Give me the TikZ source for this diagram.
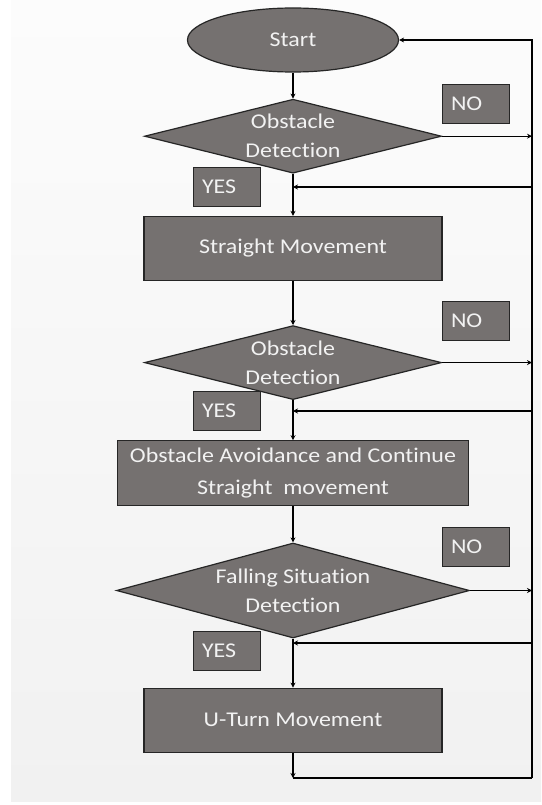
\documentclass[tikz,border=0pt]{standalone}
\usepackage{fontspec}
\setmainfont{Carlito}[FakeStretch=1.14, Ligatures={NoCommon}]
\usetikzlibrary{shapes,arrows.meta,positioning,calc}

\definecolor{boxgray}{RGB}{117,113,112}
\definecolor{boxtext}{RGB}{242,242,242}
\definecolor{paneltop}{RGB}{252,252,252}
\definecolor{panelbot}{RGB}{241,241,241}

\begin{document}
\begin{tikzpicture}[
        x=1pt, y=-1pt,
        node distance=40pt,
        base/.style={draw=black!85, line width=1.2pt, fill=boxgray, text=boxtext, font=\fontsize{21}{29}\selectfont, align=center, inner sep=0pt},
        terminal/.style={base, ellipse, minimum width=211pt, minimum height=64pt},
        proc/.style={base, rectangle, minimum width=298pt, minimum height=64pt},
        decision/.style={base, diamond, minimum width=297pt, minimum height=74pt},
        dtext/.style={text=boxtext, font=\fontsize{21}{29}\selectfont, align=center, inner sep=0pt},
        flag/.style={base, minimum width=67pt, minimum height=39pt, text width=50pt, align=left},
        arrow/.style={draw, line width=1.2pt, -{Stealth[length=5pt,width=5pt]}},
        line/.style={draw, line width=1.2pt}
    ]
        \useasboundingbox (0,0) rectangle (541,805);
        \shade [top color=paneltop, bottom color=panelbot] (11,0) rectangle (541,801);

        % Main column
        \node (start) [terminal] at (293,40) {Start};
        \node (obst1) [decision, below=26pt of start] {};
        \node (obst1txt) [dtext] at (obst1) {Obstacle\\Detection};
        \node (straight) [proc, below=42pt of obst1] {Straight Movement};
        \node (obst2) [decision, below=44pt of straight] {};
        \node (obst2txt) [dtext] at (obst2) {Obstacle\\Detection};
        \node (avoid) [proc, minimum width=351pt, minimum height=65pt, font=\fontsize{21}{32}\selectfont, below=40pt of obst2] {Obstacle Avoidance and Continue\\Straight\ \ movement};
        \node (fall) [decision, minimum width=353pt, minimum height=95pt, below=36pt of avoid] {};
        \node (falltxt) [dtext] at (fall) {Falling Situation\\Detection};
        \node (uturn) [proc, below=49pt of fall] {U-Turn Movement};

        % YES / NO flags
        \node (no1) [flag] at (476,104) {NO};
        \node (yes1) [flag] at (227,187) {YES};
        \node (no2) [flag] at (476,321) {NO};
        \node (yes2) [flag] at (227,411) {YES};
        \node (no3) [flag] at (476,547) {NO};
        \node (yes3) [flag] at (227,651) {YES};

        % Return loop
        \coordinate (loopr) at (532,778);
        \coordinate (loopl) at (uturn.south |- loopr);
        \coordinate (back1) at (obst1.south |- 0,187);
        \coordinate (back2) at (obst2.south |- 0,411);
        \coordinate (back3) at (fall.south |- 0,643);

        % Connections
        \draw [arrow] (start.south) -- (obst1.north);
        \draw [arrow] (obst1.south) -- (straight.north);
        \draw [arrow] (straight.south) -- (obst2.north);
        \draw [arrow] (obst2.south) -- (avoid.north);
        \draw [arrow] (avoid.south) -- (fall.north);
        \draw [arrow] (fall.south) -- (uturn.north);

        \draw [arrow] (obst1.east) -- (obst1.east -| loopr);
        \draw [arrow] (obst2.east) -- (obst2.east -| loopr);
        \draw [arrow] (fall.east) -- (fall.east -| loopr);

        \draw [arrow] (back1 -| loopr) -- (back1);
        \draw [arrow] (back2 -| loopr) -- (back2);
        \draw [arrow] (back3 -| loopr) -- (back3);

        \draw [arrow] (uturn.south) -- (loopl);
        \draw [line] (loopl) -- (loopr);
        \draw [arrow] (loopr) |- (start.east);

    \end{tikzpicture}
\end{document}
